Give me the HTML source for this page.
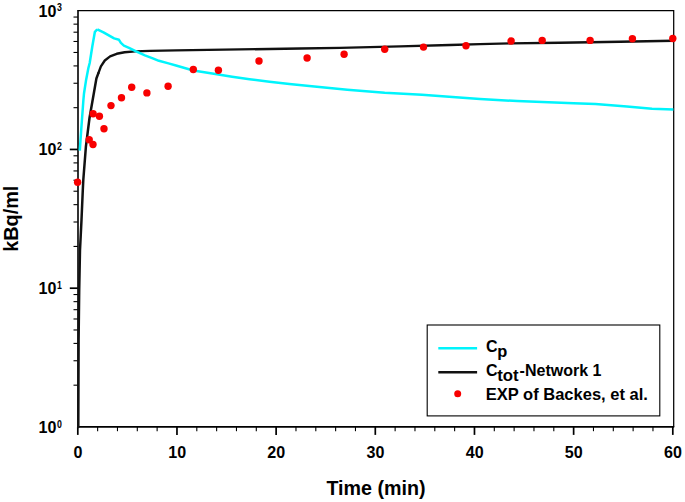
<!DOCTYPE html>
<html lang="en"><head><meta charset="utf-8"><title>Time activity curves</title>
<style>html,body{margin:0;padding:0;background:#fff}svg{display:block}text{font-family:"Liberation Sans", Arial, Helvetica, sans-serif;font-weight:bold;fill:#000}</style></head><body>
<svg width="685" height="502" viewBox="0 0 685 502">
<rect x="0" y="0" width="685" height="502" fill="#fff"/>
<g stroke="#000" fill="none">
<path d="M77.8 10.6 H673.7 V426.9" stroke-width="1.25"/>
<path d="M78.0 10.1 V426.9 H674.2" stroke-width="1.6"/>
<path d="M73.5 385.18 H77.8" stroke-width="1.1"/>
<path d="M73.5 360.75 H77.8" stroke-width="1.1"/>
<path d="M73.5 343.41 H77.8" stroke-width="1.1"/>
<path d="M73.5 329.97 H77.8" stroke-width="1.1"/>
<path d="M73.5 318.98 H77.8" stroke-width="1.1"/>
<path d="M73.5 309.69 H77.8" stroke-width="1.1"/>
<path d="M73.5 301.65 H77.8" stroke-width="1.1"/>
<path d="M73.5 294.55 H77.8" stroke-width="1.1"/>
<path d="M69.8 288.20 H77.8" stroke-width="1.7"/>
<path d="M73.5 246.43 H77.8" stroke-width="1.1"/>
<path d="M73.5 222.00 H77.8" stroke-width="1.1"/>
<path d="M73.5 204.66 H77.8" stroke-width="1.1"/>
<path d="M73.5 191.22 H77.8" stroke-width="1.1"/>
<path d="M73.5 180.23 H77.8" stroke-width="1.1"/>
<path d="M73.5 170.94 H77.8" stroke-width="1.1"/>
<path d="M73.5 162.90 H77.8" stroke-width="1.1"/>
<path d="M73.5 155.80 H77.8" stroke-width="1.1"/>
<path d="M69.8 149.45 H77.8" stroke-width="1.7"/>
<path d="M73.5 107.68 H77.8" stroke-width="1.1"/>
<path d="M73.5 83.25 H77.8" stroke-width="1.1"/>
<path d="M73.5 65.91 H77.8" stroke-width="1.1"/>
<path d="M73.5 52.47 H77.8" stroke-width="1.1"/>
<path d="M73.5 41.48 H77.8" stroke-width="1.1"/>
<path d="M73.5 32.19 H77.8" stroke-width="1.1"/>
<path d="M73.5 24.15 H77.8" stroke-width="1.1"/>
<path d="M73.5 17.05 H77.8" stroke-width="1.1"/>
<path d="M77.80 426.9 V434.9" stroke-width="1.7"/>
<path d="M97.63 426.9 V431.2" stroke-width="1.1"/>
<path d="M117.47 426.9 V431.2" stroke-width="1.1"/>
<path d="M137.30 426.9 V431.2" stroke-width="1.1"/>
<path d="M157.13 426.9 V431.2" stroke-width="1.1"/>
<path d="M176.97 426.9 V434.9" stroke-width="1.7"/>
<path d="M196.80 426.9 V431.2" stroke-width="1.1"/>
<path d="M216.63 426.9 V431.2" stroke-width="1.1"/>
<path d="M236.47 426.9 V431.2" stroke-width="1.1"/>
<path d="M256.30 426.9 V431.2" stroke-width="1.1"/>
<path d="M276.13 426.9 V434.9" stroke-width="1.7"/>
<path d="M295.97 426.9 V431.2" stroke-width="1.1"/>
<path d="M315.80 426.9 V431.2" stroke-width="1.1"/>
<path d="M335.63 426.9 V431.2" stroke-width="1.1"/>
<path d="M355.47 426.9 V431.2" stroke-width="1.1"/>
<path d="M375.30 426.9 V434.9" stroke-width="1.7"/>
<path d="M395.13 426.9 V431.2" stroke-width="1.1"/>
<path d="M414.97 426.9 V431.2" stroke-width="1.1"/>
<path d="M434.80 426.9 V431.2" stroke-width="1.1"/>
<path d="M454.63 426.9 V431.2" stroke-width="1.1"/>
<path d="M474.47 426.9 V434.9" stroke-width="1.7"/>
<path d="M494.30 426.9 V431.2" stroke-width="1.1"/>
<path d="M514.13 426.9 V431.2" stroke-width="1.1"/>
<path d="M533.97 426.9 V431.2" stroke-width="1.1"/>
<path d="M553.80 426.9 V431.2" stroke-width="1.1"/>
<path d="M573.63 426.9 V434.9" stroke-width="1.7"/>
<path d="M593.47 426.9 V431.2" stroke-width="1.1"/>
<path d="M613.30 426.9 V431.2" stroke-width="1.1"/>
<path d="M633.13 426.9 V431.2" stroke-width="1.1"/>
<path d="M652.97 426.9 V431.2" stroke-width="1.1"/>
<path d="M672.80 426.9 V434.9" stroke-width="1.7"/>
</g>
<g fill="none" stroke-linejoin="round" stroke-linecap="round">
<polyline points="78.3,427.0 78.6,340.0 79.2,290.0 80.0,250.0 81.5,220.0 82.8,190.0 83.3,180.0 85.9,146.7 89.5,118.0 93.7,94.0 96.4,78.5 98.3,73.4" stroke="#111" stroke-width="2.5"/>
<polyline points="98.3,73.4 100.9,66.4 104.8,60.5 110.1,56.4 116.7,53.8 124.6,52.3 135.1,51.4 150.0,50.9 176.0,50.4 240.0,49.4 300.0,48.5 340.0,47.9 400.0,46.4 450.0,45.0 480.0,44.1 510.0,43.4 560.0,42.8 620.0,41.8 673.4,40.7" stroke="#111" stroke-width="2.4"/>
<polyline points="79.8,150.7 81.2,130.0 83.4,100.0 84.0,93.5 86.1,79.9 88.4,68.0 89.7,63.0 92.3,46.5 94.9,31.8 97.3,29.3" stroke="#00f4fc" stroke-width="2.5" stroke-linecap="butt"/>
<polyline points="97.3,29.3 103.5,32.3 114.1,38.4 119.0,39.8 120.9,42.9 123.9,45.6 129.0,47.8 136.1,51.3 144.9,55.3 152.8,58.3 158.9,60.8 168.5,63.4 176.0,65.5 193.3,70.5 212.2,73.5 232.1,76.7 249.6,79.2 269.5,81.7 289.4,84.0 309.3,86.0 347.3,89.7 384.7,92.7 422.0,94.7 459.3,97.6 480.0,99.1 517.1,101.0 573.6,103.2 595.5,104.1 626.9,106.6 652.0,108.8 673.4,109.5" stroke="#00f4fc" stroke-width="2.5" stroke-linecap="butt"/>
</g>
<g fill="#f80000">
<circle cx="77.6" cy="182.3" r="3.7"/>
<circle cx="89.2" cy="139.8" r="3.7"/>
<circle cx="93.0" cy="144.5" r="3.7"/>
<circle cx="93.1" cy="113.7" r="3.7"/>
<circle cx="99.4" cy="116.3" r="3.7"/>
<circle cx="104.0" cy="128.7" r="3.7"/>
<circle cx="111.0" cy="105.6" r="3.7"/>
<circle cx="121.5" cy="97.8" r="3.7"/>
<circle cx="131.7" cy="87.2" r="3.7"/>
<circle cx="146.9" cy="92.9" r="3.7"/>
<circle cx="168.1" cy="86.3" r="3.7"/>
<circle cx="193.3" cy="69.5" r="3.7"/>
<circle cx="218.4" cy="70.3" r="3.7"/>
<circle cx="259.0" cy="61.0" r="3.7"/>
<circle cx="307.1" cy="58.0" r="3.7"/>
<circle cx="344.1" cy="54.3" r="3.7"/>
<circle cx="384.7" cy="49.3" r="3.7"/>
<circle cx="423.5" cy="47.1" r="3.7"/>
<circle cx="466.0" cy="45.8" r="3.7"/>
<circle cx="511.1" cy="41.0" r="3.7"/>
<circle cx="542.2" cy="40.4" r="3.7"/>
<circle cx="590.1" cy="40.4" r="3.7"/>
<circle cx="632.4" cy="38.8" r="3.7"/>
<circle cx="672.8" cy="38.5" r="3.7"/>
</g>
<text transform="translate(56.5 433.0) scale(1 1.045)" font-size="16.1" text-anchor="end">10</text>
<text transform="translate(56.9 428.3) scale(0.9 1.03)" font-size="9.8">0</text>
<text transform="translate(56.5 294.1) scale(1 1.045)" font-size="16.1" text-anchor="end">10</text>
<text transform="translate(56.9 288.7) scale(0.9 1.03)" font-size="9.8">1</text>
<text transform="translate(56.5 155.3) scale(1 1.045)" font-size="16.1" text-anchor="end">10</text>
<text transform="translate(56.9 149.9) scale(0.9 1.03)" font-size="9.8">2</text>
<text transform="translate(56.5 17.1) scale(1 1.045)" font-size="16.1" text-anchor="end">10</text>
<text transform="translate(56.9 11.3) scale(0.9 1.03)" font-size="9.8">3</text>
<text transform="translate(78.0 457.5) scale(1 1.045)" font-size="16.1" text-anchor="middle">0</text>
<text transform="translate(177.2 457.5) scale(1 1.045)" font-size="16.1" text-anchor="middle">10</text>
<text transform="translate(276.3 457.5) scale(1 1.045)" font-size="16.1" text-anchor="middle">20</text>
<text transform="translate(375.5 457.5) scale(1 1.045)" font-size="16.1" text-anchor="middle">30</text>
<text transform="translate(474.7 457.5) scale(1 1.045)" font-size="16.1" text-anchor="middle">40</text>
<text transform="translate(573.8 457.5) scale(1 1.045)" font-size="16.1" text-anchor="middle">50</text>
<text transform="translate(673.0 457.5) scale(1 1.045)" font-size="16.1" text-anchor="middle">60</text>
<text x="376.0" y="495.0" font-size="19.7" text-anchor="middle">Time (min)</text>
<text transform="translate(18 218.7) rotate(-90)" font-size="19.85" text-anchor="middle">kBq/ml</text>
<rect x="427.2" y="325" width="232.6" height="90.9" fill="#fff" stroke="#000" stroke-width="1.1"/>
<path d="M438.3 348.2 H477.1" stroke="#00f4fc" stroke-width="2.6"/>
<path d="M438.3 372.3 H477.1" stroke="#111" stroke-width="2.5"/>
<circle cx="457.7" cy="393.8" r="3.5" fill="#f80000"/>
<text x="486" y="352.0" font-size="16">C<tspan dy="5.2" dx="-0.4" font-size="16.4">p</tspan></text>
<text x="486" y="376.2" font-size="16">C<tspan dy="5.0" dx="-0.4" font-size="16.8">tot</tspan><tspan dy="-5.0" dx="1.0" font-size="16">-Network 1</tspan></text>
<text x="485.8" y="400.0" font-size="16.5">EXP of Backes, et al.</text>
</svg></body></html>
